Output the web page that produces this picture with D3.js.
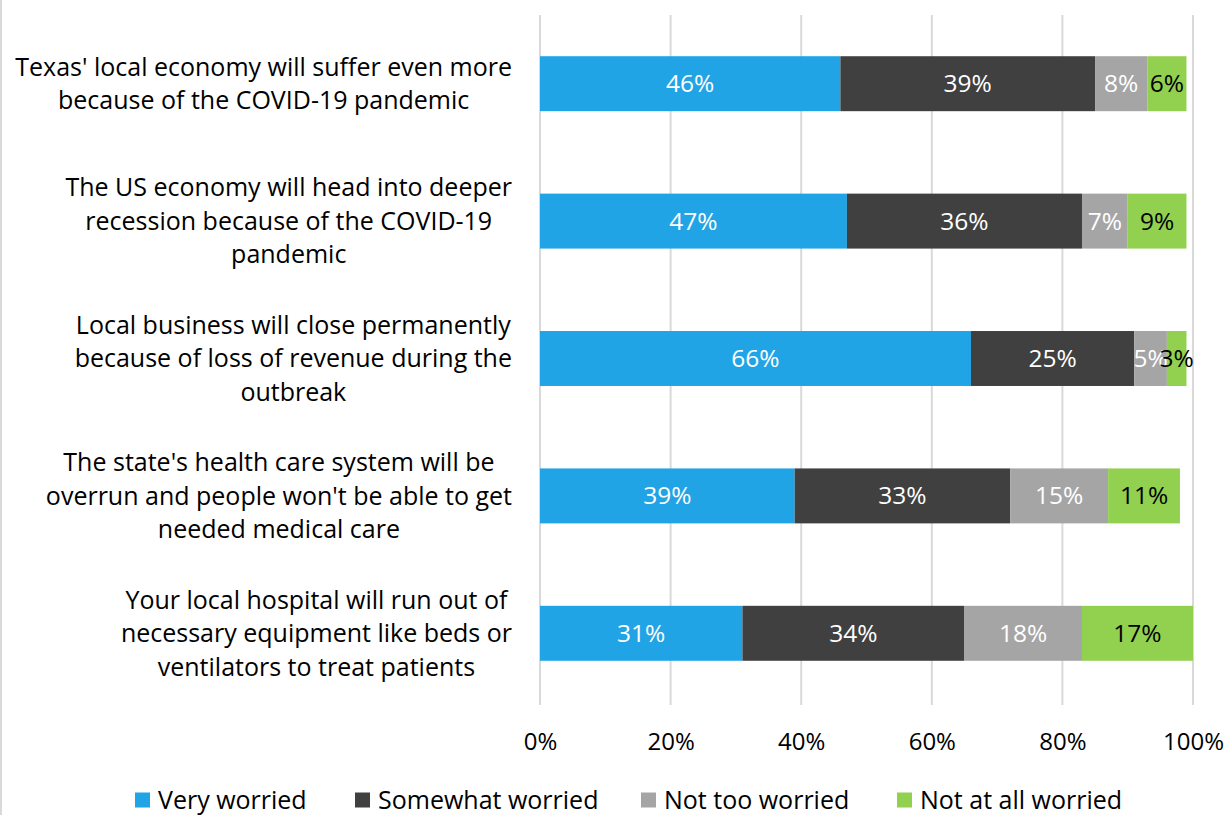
<!DOCTYPE html>
<html>
<head>
<meta charset="utf-8">
<script src="https://cdn.jsdelivr.net/npm/d3@7"></script>
<style>
  body { margin: 0; background: #fff; }
  svg { display: block; font-family: "Open Sans", "Noto Sans", sans-serif; }
</style>
</head>
<body>
<div id="chart"></div>
<script>
// data
var categories = [
	["Texas' local economy will suffer even more", "because of the COVID-19 pandemic"],
	["The US economy will head into deeper", "recession because of the COVID-19", "pandemic"],
	["Local business will close permanently", "because of loss of revenue during the", "outbreak"],
	["The state's health care system will be", "overrun and people won't be able to get", "needed medical care"],
	["Your local hospital will run out of", "necessary equipment like beds or", "ventilators to treat patients"]
];
var seriesNames = ["Very worried", "Somewhat worried", "Not too worried", "Not at all worried"];
var veryWorried = [46, 47, 66, 39, 31];
var somewhatWorried = [39, 36, 25, 33, 34];
var notTooWorried = [8, 7, 5, 15, 18];
var notAtAllWorried = [6, 9, 3, 11, 17];
var tickValues = [0, 20, 40, 60, 80, 100];

var colors = ["#21a4e6", "#404040", "#a5a5a5", "#92d050"];
var labelColors = ["#fff", "#fff", "#fff", "#000"];

var width = 1227, height = 815;
var svg = d3.select("#chart").append("svg")
	.attr("width", width)
	.attr("height", height);

// left frame edge
svg.append("rect")
	.attr("x", 0).attr("y", 0)
	.attr("width", 2).attr("height", height)
	.attr("fill", "#d9d9d9");

var x = d3.scaleLinear().domain([0, 100]).range([540, 1193]);
var y = d3.scaleBand().domain(d3.range(categories.length)).range([15, 702])
	.paddingInner(0.6).paddingOuter(0.3);

// gridlines
svg.append("g").selectAll("line")
	.data(tickValues)
	.enter().append("line")
	.attr("x1", function(d) { return x(d); })
	.attr("x2", function(d) { return x(d); })
	.attr("y1", 15)
	.attr("y2", 705)
	.attr("stroke", "#d9d9d9")
	.attr("stroke-width", 2);

// stack the series
var rows = categories.map(function(c, i) {
	return { i: i, s0: veryWorried[i], s1: somewhatWorried[i], s2: notTooWorried[i], s3: notAtAllWorried[i] };
});
var stack = d3.stack().keys(["s0", "s1", "s2", "s3"]);
var layers = stack(rows);

var groups = svg.append("g").selectAll("g")
	.data(layers)
	.enter().append("g")
	.attr("fill", function(d, k) { return colors[k]; });

groups.selectAll("rect")
	.data(function(d) { return d; })
	.enter().append("rect")
	.attr("x", function(d) { return x(d[0]); })
	.attr("width", function(d) { return x(d[1]) - x(d[0]); })
	.attr("y", function(d) { return y(d.data.i); })
	.attr("height", y.bandwidth());

// value labels
layers.forEach(function(layer, k) {
	svg.append("g").selectAll("text")
		.data(layer)
		.enter().append("text")
		.attr("x", function(d) { return (x(d[0]) + x(d[1])) / 2; })
		.attr("y", function(d) { return y(d.data.i) + y.bandwidth() / 2; })
		.attr("dy", "0.35em")
		.attr("text-anchor", "middle")
		.attr("font-size", "24.5px")
		.attr("fill", labelColors[k])
		.text(function(d) { return (d[1] - d[0]) + "%"; });
});

// category labels: block right aligned, lines centered
var lineH = 33.5;
categories.forEach(function(lines, i) {
	var g = svg.append("g");
	var cy = y(i) + y.bandwidth() / 2;
	var texts = g.selectAll("text")
		.data(lines)
		.enter().append("text")
		.attr("y", function(d, j) { return cy + (j - (lines.length - 1) / 2) * lineH; })
		.attr("dy", "0.35em")
		.attr("text-anchor", "middle")
		.attr("font-size", "25px")
		.attr("fill", "#000")
		.text(function(d) { return d; });
	var maxW = 0;
	texts.each(function() { maxW = Math.max(maxW, this.getComputedTextLength()); });
	texts.attr("x", 512 - maxW / 2);
});

// x axis
var xAxis = d3.axisBottom(x)
	.tickValues(tickValues)
	.tickSize(0)
	.tickPadding(0)
	.tickFormat(function(d) { return d + "%"; });
var axisG = svg.append("g")
	.attr("transform", "translate(0,742)")
	.call(xAxis);
axisG.select(".domain").remove();
axisG.selectAll("text")
	.attr("dy", "0.35em")
	.attr("y", 0)
	.attr("font-family", "'Open Sans', 'Noto Sans', sans-serif")
	.attr("font-size", "24px")
	.attr("fill", "#000");

// legend
var legendX = [135, 355, 641, 897];
var legend = svg.append("g").selectAll("g")
	.data(seriesNames)
	.enter().append("g")
	.attr("transform", function(d, k) { return "translate(" + legendX[k] + ",800)"; });
legend.append("rect")
	.attr("x", 0).attr("y", -7.5)
	.attr("width", 15).attr("height", 15)
	.attr("fill", function(d, k) { return colors[k]; });
legend.append("text")
	.attr("x", 23)
	.attr("dy", "0.35em")
	.attr("font-size", "25px")
	.attr("fill", "#000")
	.text(function(d) { return d; });
</script>
</body>
</html>
